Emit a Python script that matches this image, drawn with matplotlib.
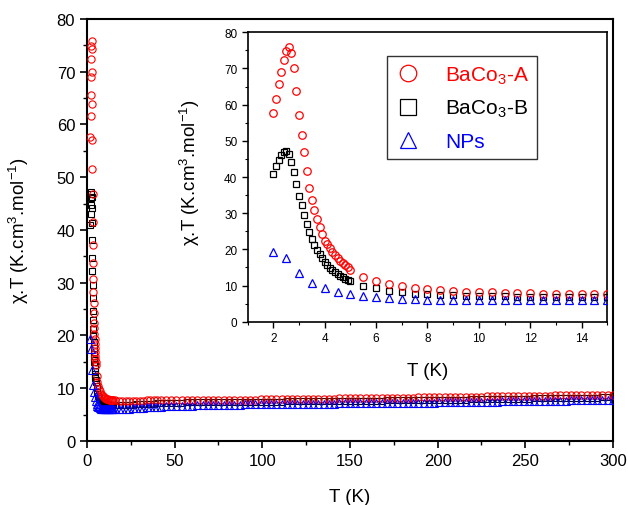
import numpy as np
import matplotlib
matplotlib.use("Agg")
import matplotlib.pyplot as plt
from matplotlib.ticker import MultipleLocator

plt.rcParams["font.family"] = ["Liberation Sans", "DejaVu Sans"]
plt.rcParams["mathtext.default"] = "regular"

# temperature grids (K)
t_fine = np.round(np.arange(2.0, 5.01, 0.1), 1)
t_half = np.arange(5.5, 15.01, 0.5)
t_np = np.arange(2.0, 15.01, 0.5)
t_mid = np.arange(16, 41, 2)
t_high = np.arange(42, 301, 3)

# BaCo3-A
a_fine = [57.7, 61.6, 65.6, 69.0, 72.4, 74.8, 75.8, 74.3, 70.0, 63.8,
          57.1, 51.5, 46.8, 41.6, 37.1, 33.7, 30.8, 28.3, 26.1, 24.3,
          22.4, 21.4, 20.3, 19.4, 18.4, 17.6, 16.9, 16.2, 15.6, 15.0, 14.4]
a_half = [12.4, 11.2, 10.4, 9.9, 9.4, 9.0, 8.7, 8.5, 8.3, 8.2,
          8.1, 8.0, 7.9, 7.9, 7.8, 7.8, 7.7, 7.7, 7.7, 7.7]
a_mid = [7.7, 7.65, 7.65, 7.65, 7.65, 7.65, 7.65, 7.65, 7.65, 7.7, 7.7, 7.7, 7.7]
a_high = [7.70, 7.71, 7.72, 7.73, 7.73, 7.74, 7.75, 7.76, 7.77, 7.78,
          7.79, 7.80, 7.80, 7.81, 7.82, 7.83, 7.84, 7.85, 7.86, 7.87,
          7.89, 7.90, 7.91, 7.93, 7.94, 7.95, 7.96, 7.98, 7.99, 8.00,
          8.01, 8.03, 8.04, 8.05, 8.06, 8.08, 8.09, 8.10, 8.11, 8.13,
          8.14, 8.15, 8.16, 8.18, 8.19, 8.20, 8.21, 8.23, 8.24, 8.25,
          8.27, 8.28, 8.29, 8.31, 8.32, 8.34, 8.35, 8.37, 8.38, 8.40,
          8.41, 8.43, 8.44, 8.46, 8.47, 8.49, 8.50, 8.52, 8.53, 8.55,
          8.56, 8.58, 8.59, 8.61, 8.62, 8.64, 8.65, 8.67, 8.68, 8.70,
          8.71, 8.73, 8.74, 8.76, 8.77, 8.79, 8.80]

# BaCo3-B
b_fine = [40.9, 43.0, 44.7, 46.1, 46.9, 47.2, 46.3, 44.2, 41.4, 38.1,
          34.7, 32.3, 29.6, 27.1, 24.7, 22.9, 21.3, 19.9, 18.7, 17.7,
          16.5, 15.8, 14.9, 14.4, 13.8, 13.3, 12.7, 12.3, 11.9, 11.5, 11.2]
b_half = [10.0, 9.2, 8.6, 8.1, 7.8, 7.6, 7.4, 7.3, 7.2, 7.1,
          7.0, 7.0, 6.9, 6.9, 6.9, 6.8, 6.8, 6.8, 6.8, 6.8]
b_mid = [6.8, 6.8, 6.8, 6.85, 6.9, 6.9, 6.95, 7.0, 7.0, 7.05, 7.1, 7.1, 7.15]
b_high = [7.20, 7.22, 7.24, 7.26, 7.28, 7.30, 7.31, 7.32, 7.33, 7.34,
          7.35, 7.36, 7.37, 7.38, 7.39, 7.40, 7.41, 7.42, 7.43, 7.44,
          7.45, 7.46, 7.47, 7.48, 7.49, 7.50, 7.51, 7.52, 7.53, 7.54,
          7.55, 7.56, 7.57, 7.58, 7.59, 7.60, 7.61, 7.62, 7.63, 7.64,
          7.65, 7.66, 7.67, 7.68, 7.69, 7.70, 7.71, 7.72, 7.73, 7.74,
          7.75, 7.76, 7.77, 7.79, 7.80, 7.82, 7.83, 7.85, 7.86, 7.88,
          7.89, 7.91, 7.92, 7.94, 7.95, 7.97, 7.98, 8.00, 8.01, 8.03,
          8.04, 8.06, 8.07, 8.09, 8.10, 8.12, 8.13, 8.15, 8.16, 8.18,
          8.19, 8.21, 8.22, 8.24, 8.25, 8.27, 8.28]

# NPs
n_low = [19.3, 17.5, 13.5, 10.7, 9.2, 8.3, 7.6, 7.0, 6.7, 6.5,
         6.4, 6.2, 6.1, 6.1, 6.0, 6.0, 6.0, 6.0, 6.0, 6.0,
         6.0, 6.0, 6.0, 6.0, 6.0, 6.0, 6.0]
n_mid = [6.0, 6.05, 6.1, 6.1, 6.15, 6.2, 6.25, 6.3, 6.3, 6.35, 6.4, 6.45, 6.5]
n_high = [6.52, 6.57, 6.62, 6.66, 6.68, 6.70, 6.72, 6.74, 6.76, 6.78,
          6.80, 6.82, 6.84, 6.86, 6.88, 6.90, 6.92, 6.94, 6.95, 6.96,
          6.97, 6.98, 6.99, 7.00, 7.01, 7.02, 7.03, 7.04, 7.05, 7.06,
          7.07, 7.08, 7.09, 7.10, 7.11, 7.12, 7.13, 7.14, 7.15, 7.16,
          7.17, 7.18, 7.19, 7.20, 7.21, 7.22, 7.23, 7.24, 7.25, 7.26,
          7.27, 7.28, 7.29, 7.31, 7.32, 7.34, 7.35, 7.37, 7.38, 7.40,
          7.41, 7.43, 7.44, 7.46, 7.47, 7.49, 7.50, 7.52, 7.53, 7.55,
          7.56, 7.58, 7.59, 7.61, 7.62, 7.64, 7.65, 7.67, 7.68, 7.70,
          7.71, 7.73, 7.74, 7.76, 7.77, 7.79, 7.80]

ylab = "χ.T (K.cm$^{3}$.mol$^{-1}$)"

t_ab = np.concatenate([t_fine, t_half])
a_low = a_fine + a_half
b_low = b_fine + b_half

t_ab_all = np.concatenate([t_ab, t_mid, t_high])
t_np_all = np.concatenate([t_np, t_mid, t_high])

fig = plt.figure(figsize=(6.28, 5.06), dpi=100)

# main axes
ax = fig.add_axes([0.1385, 0.1265, 0.8375, 0.834])
ax.plot(t_ab_all, b_low + b_mid + b_high, "s", mfc="none", mec="black", ms=4.8, mew=0.8, zorder=2)
ax.plot(t_ab_all, a_low + a_mid + a_high, "o", mfc="none", mec="red", ms=5.2, mew=0.8, zorder=3)
ax.plot(t_np_all, n_low + n_mid + n_high, "^", mfc="none", mec="blue", ms=5.2, mew=0.8, zorder=4)
ax.set_xlim(0, 300)
ax.set_ylim(0, 80)
ax.xaxis.set_major_locator(MultipleLocator(50))
ax.xaxis.set_minor_locator(MultipleLocator(25))
ax.yaxis.set_major_locator(MultipleLocator(10))
ax.yaxis.set_minor_locator(MultipleLocator(5))
ax.tick_params(which="major", direction="out", length=5, width=1.2, labelsize=12)
ax.tick_params(which="minor", direction="out", length=3, width=1.0)
for s in ax.spines.values():
    s.set_linewidth(1.5)
ax.set_xlabel("T (K)", fontsize=13.5)
ax.set_ylabel(ylab, fontsize=13.5)
ax.xaxis.set_label_coords(0.5, -0.112)
ax.yaxis.set_label_coords(-0.106, 0.5)

# inset
ins = fig.add_axes([0.3944, 0.3622, 0.5726, 0.572])
ins.plot(t_ab, b_low, "s", mfc="none", mec="black", ms=5, mew=0.9, label="BaCo$_3$-B", zorder=2)
ins.plot(t_ab, a_low, "o", mfc="none", mec="red", ms=5.4, mew=0.9, label="BaCo$_3$-A", zorder=3)
ins.plot(t_np, n_low, "^", mfc="none", mec="blue", ms=5.4, mew=0.9, label="NPs", zorder=4)
ins.set_xlim(1, 15)
ins.set_ylim(0, 80)
ins.xaxis.set_major_locator(MultipleLocator(2))
ins.xaxis.set_minor_locator(MultipleLocator(1))
ins.yaxis.set_major_locator(MultipleLocator(10))
ins.yaxis.set_minor_locator(MultipleLocator(5))
ins.tick_params(which="major", direction="out", length=4, width=1.0, labelsize=8.5)
ins.tick_params(which="minor", direction="out", length=2.5, width=0.8)
for s in ins.spines.values():
    s.set_linewidth(1.2)
ins.set_xlabel("T (K)", fontsize=13.5)
ins.set_ylabel(ylab, fontsize=13.5)
ins.xaxis.set_label_coords(0.5, -0.14)
ins.yaxis.set_label_coords(-0.127, 0.52)

handles, labels = ins.get_legend_handles_labels()
order = [1, 0, 2]
leg = ins.legend([handles[i] for i in order], [labels[i] for i in order],
                 loc="upper left", bbox_to_anchor=(0.387, 0.918), fontsize=15,
                 markerscale=2.2, frameon=True, fancybox=False, edgecolor="black",
                 borderpad=0.4, labelspacing=0.6, handlelength=1.2, handletextpad=1.2,
                 borderaxespad=0)
leg.get_frame().set_linewidth(1.0)
for txt, col in zip(leg.get_texts(), ["red", "black", "blue"]):
    txt.set_color(col)

fig.savefig("out.png", dpi=100)
